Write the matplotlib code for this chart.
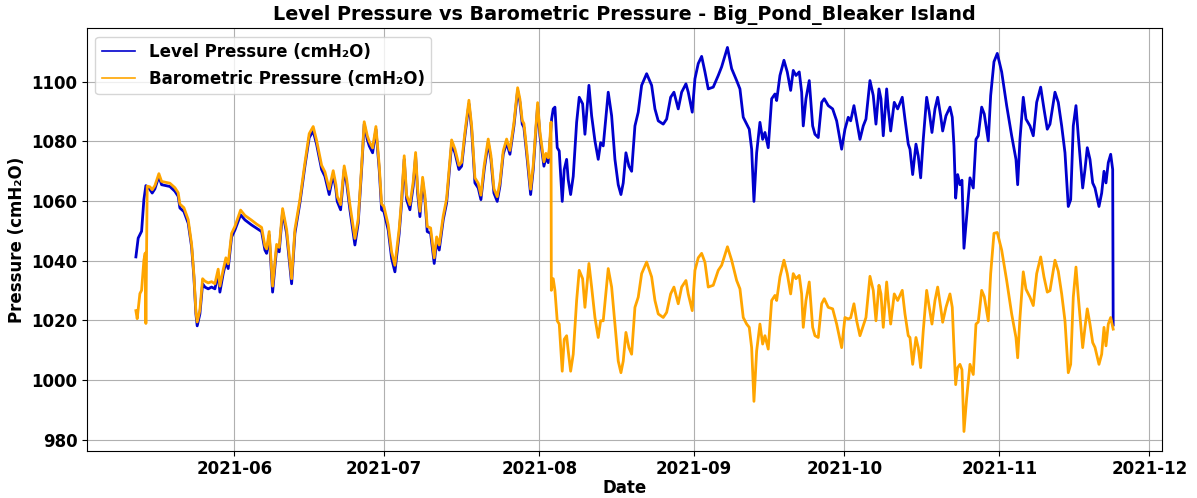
import datetime as dt
import matplotlib
matplotlib.use("Agg")
import matplotlib.pyplot as plt
import matplotlib.dates as mdates

# Sample times are given as fractional days since 2021-05-01 00:00.
START = dt.datetime(2021, 5, 1)

level_days = [
    11.34, 11.80, 12.48, 12.94, 13.34, 14.14, 14.60, 15.14, 15.94, 16.48,
    18.14, 19.14, 19.80, 20.14, 20.94, 21.80, 22.48, 22.94, 23.34, 23.60,
    24.14, 24.68, 25.14, 25.80, 26.48, 27.14, 27.80, 28.14, 28.80, 29.34,
    29.80, 30.48, 31.14, 32.28, 33.14, 34.48, 35.48, 36.48, 37.14, 37.48,
    38.00, 38.68, 39.48, 40.00, 40.68, 41.48, 42.48, 43.14, 44.14, 45.14,
    46.00, 46.80, 47.48, 48.48, 49.14, 50.00, 50.80, 51.34, 51.60, 52.28,
    53.00, 53.48, 54.14, 55.14, 55.80, 56.48, 57.00, 57.60, 58.00, 58.68,
    59.34, 60.00, 60.48, 60.94, 61.80, 62.48, 63.14, 64.00, 64.48, 65.00,
    65.48, 66.14, 66.80, 67.28, 67.68, 68.14, 68.68, 69.14, 69.60, 70.28,
    71.00, 71.48, 72.00, 72.80, 73.48, 74.48, 75.14, 75.94, 76.48, 77.14,
    77.94, 78.48, 79.14, 79.80, 80.34, 81.00, 81.80, 82.34, 82.94, 83.60,
    84.14, 84.80, 85.48, 86.14, 86.94, 87.68, 88.14, 88.60, 88.94, 89.60,
    90.28, 90.80, 91.68, 92.14, 92.94, 93.34, 93.80, 94.00, 94.48, 94.80,
    95.14, 95.60, 96.00, 96.60, 97.00, 97.48, 97.80, 98.28, 98.80, 99.48,
    100.00, 100.68, 101.14, 101.94, 102.48, 103.14, 103.80, 104.28, 104.80, 105.80,
    106.48, 107.14, 107.80, 108.34, 108.80, 109.34, 109.94, 110.48, 111.14, 111.80,
    112.48, 113.48, 114.48, 115.14, 115.80, 116.80, 117.48, 118.28, 118.94, 119.80,
    120.48, 121.34, 121.80, 122.60, 123.14, 123.80, 124.48, 125.14, 125.80, 126.80,
    127.80, 128.48, 129.64, 130.48, 131.48, 132.14, 132.80, 133.48, 134.00, 134.48,
    134.94, 135.48, 136.14, 136.68, 137.14, 137.80, 138.48, 139.14, 139.48, 140.14,
    140.94, 141.60, 142.28, 142.80, 143.34, 144.00, 144.48, 144.80, 145.34, 146.00,
    146.68, 147.14, 147.80, 148.48, 149.00, 149.80, 150.68, 151.48, 152.48, 153.14,
    153.80, 154.28, 154.94, 155.48, 156.14, 156.80, 157.34, 158.14, 158.80, 159.34,
    159.94, 160.34, 160.80, 161.48, 161.80, 162.28, 163.00, 163.68, 164.60, 165.14,
    165.80, 166.14, 166.68, 167.34, 167.80, 168.28, 168.80, 169.48, 170.00, 170.54,
    171.14, 171.68, 172.28, 172.68, 173.34, 174.14, 174.60, 174.94, 175.28, 175.68,
    176.14, 176.54, 176.94, 177.48, 178.14, 178.80, 179.34, 179.80, 180.48, 181.00,
    181.80, 182.28, 182.94, 183.60, 184.48, 185.48, 186.48, 187.34, 187.68, 188.14,
    188.80, 189.34, 190.14, 190.80, 191.48, 192.28, 192.94, 193.60, 194.14, 195.14,
    195.80, 196.48, 197.14, 197.80, 198.28, 198.80, 199.34, 199.80, 200.68, 201.14,
    201.60, 202.14, 202.68, 203.14, 203.94, 204.48, 204.94, 205.34, 205.80, 206.28,
    206.68, 206.78,
]

level_cm = [
    1041.3, 1047.6, 1049.9, 1060.5, 1065.2, 1063.9, 1062.7, 1064.1, 1068.3, 1065.5,
    1064.9, 1063.3, 1061.6, 1057.7, 1056.5, 1052.6, 1044.7, 1034.6, 1022.2, 1018.2,
    1022.2, 1032.3, 1031.2, 1030.6, 1031.2, 1030.6, 1035.7, 1029.5, 1035.7, 1039.6,
    1037.4, 1048.0, 1050.3, 1055.4, 1053.7, 1052.0, 1050.9, 1049.8, 1043.6, 1042.5,
    1048.6, 1029.5, 1044.2, 1043.0, 1056.5, 1049.2, 1032.3, 1049.2, 1059.4, 1071.7,
    1081.3, 1083.5, 1079.0, 1070.6, 1068.3, 1062.2, 1068.9, 1063.9, 1059.9, 1057.1,
    1070.6, 1066.1, 1057.1, 1045.3, 1052.6, 1070.6, 1085.8, 1080.7, 1078.5, 1076.2,
    1084.1, 1070.6, 1057.1, 1056.5, 1050.3, 1040.8, 1036.3, 1049.2, 1059.4, 1074.0,
    1060.5, 1057.1, 1065.0, 1075.1, 1062.7, 1054.8, 1066.7, 1060.5, 1049.8, 1049.2,
    1039.1, 1046.4, 1043.6, 1053.7, 1059.4, 1079.1, 1076.2, 1070.6, 1071.7, 1081.9,
    1092.6, 1084.1, 1066.1, 1064.4, 1060.5, 1070.6, 1079.6, 1074.0, 1062.7, 1059.9,
    1065.0, 1075.7, 1079.6, 1075.7, 1085.2, 1097.1, 1093.1, 1085.8, 1084.7, 1074.0,
    1062.2, 1070.6, 1092.0, 1081.9, 1071.7, 1074.6, 1072.9, 1076.2, 1087.5, 1090.9,
    1091.5, 1077.9, 1076.8, 1059.9, 1070.6, 1074.0, 1067.2, 1062.2, 1068.3, 1086.4,
    1094.8, 1092.6, 1082.4, 1098.8, 1088.6, 1080.2, 1074.0, 1079.6, 1078.5, 1096.5,
    1088.6, 1074.0, 1065.5, 1062.2, 1066.1, 1076.2, 1071.7, 1070.0, 1085.2, 1089.8,
    1098.8, 1102.7, 1098.8, 1090.9, 1086.9, 1085.8, 1087.5, 1094.8, 1096.5, 1090.9,
    1096.5, 1099.3, 1096.5, 1089.8, 1101.0, 1106.1, 1108.5, 1103.3, 1097.6, 1098.2,
    1102.1, 1105.0, 1111.5, 1104.4, 1100.4, 1097.6, 1088.1, 1085.8, 1084.1, 1077.4,
    1059.9, 1076.2, 1086.4, 1080.7, 1083.0, 1077.9, 1094.3, 1095.9, 1093.7, 1102.1,
    1107.2, 1103.3, 1097.1, 1103.8, 1102.1, 1103.3, 1096.5, 1085.2, 1094.3, 1100.4,
    1085.2, 1082.4, 1081.3, 1093.1, 1094.3, 1092.0, 1090.9, 1086.9, 1077.4, 1084.1,
    1088.1, 1086.9, 1092.0, 1086.9, 1080.7, 1085.2, 1087.5, 1100.4, 1095.4, 1085.8,
    1097.6, 1094.3, 1081.9, 1097.6, 1090.9, 1083.5, 1093.1, 1090.9, 1094.8, 1087.5,
    1079.1, 1077.4, 1068.9, 1079.1, 1075.1, 1067.8, 1080.7, 1094.8, 1089.8, 1083.0,
    1090.9, 1094.8, 1088.6, 1083.5, 1088.6, 1091.5, 1088.1, 1078.5, 1061.0, 1068.9,
    1065.5, 1067.0, 1044.2, 1054.8, 1067.8, 1064.4, 1080.7, 1081.9, 1091.5, 1089.2,
    1080.2, 1095.4, 1106.7, 1109.5, 1103.3, 1092.0, 1081.9, 1074.0, 1065.5, 1080.7,
    1094.8, 1087.5, 1085.2, 1081.9, 1093.1, 1098.2, 1090.9, 1084.1, 1085.8, 1096.5,
    1093.1, 1085.2, 1076.2, 1058.2, 1060.5, 1085.2, 1092.0, 1081.9, 1064.4, 1070.6,
    1077.9, 1074.0, 1066.1, 1064.4, 1058.2, 1062.7, 1070.0, 1066.1, 1072.9, 1075.7,
    1070.6, 1018.5,
]

baro_days = [
    11.34, 11.60, 12.14, 12.48, 12.94, 13.20, 13.34, 13.60,
    14.14, 14.60, 15.14, 15.94, 16.48, 18.14, 19.14, 19.80, 20.14, 20.94,
    21.80, 22.48, 22.94, 23.34, 23.60, 24.14, 24.68, 25.14, 25.80, 26.48,
    27.14, 27.80, 28.14, 28.80, 29.34, 29.80, 30.48, 31.14, 32.28, 33.14,
    34.48, 35.48, 36.48, 37.14, 37.48, 38.00, 38.68, 39.48, 40.00, 40.68,
    41.48, 42.48, 43.14, 44.14, 45.14, 46.00, 46.80, 47.48, 48.48, 49.14,
    50.00, 50.80, 51.34, 51.60, 52.28, 53.00, 53.48, 54.14, 55.14, 55.80,
    56.48, 57.00, 57.60, 58.00, 58.68, 59.34, 60.00, 60.48, 60.94, 61.80,
    62.48, 63.14, 64.00, 64.48, 65.00, 65.48, 66.14, 66.80, 67.28, 67.68,
    68.14, 68.68, 69.14, 69.60, 70.28, 71.00, 71.48, 72.00, 72.80, 73.48,
    74.48, 75.14, 75.94, 76.48, 77.14, 77.94, 78.48, 79.14, 79.80, 80.34,
    81.00, 81.80, 82.34, 82.94, 83.60, 84.14, 84.80, 85.48, 86.14, 86.94,
    87.68, 88.14, 88.60, 88.94, 89.60, 90.28, 90.80, 91.68, 92.14, 92.94,
    93.34, 93.80, 94.00, 94.36, 94.42, 94.80,
    95.14, 95.60, 96.00, 96.60, 97.00, 97.48, 97.80, 98.28, 98.80, 99.48,
    100.00, 100.68, 101.14, 101.94, 102.48, 103.14, 103.80, 104.28, 104.80, 105.80,
    106.48, 107.14, 107.80, 108.34, 108.80, 109.34, 109.94, 110.48, 111.14, 111.80,
    112.48, 113.48, 114.48, 115.14, 115.80, 116.80, 117.48, 118.28, 118.94, 119.80,
    120.48, 121.34, 121.80, 122.60, 123.14, 123.80, 124.48, 125.14, 125.80, 126.80,
    127.80, 128.48, 129.64, 130.48, 131.48, 132.14, 132.80, 133.48, 134.00, 134.48,
    134.94, 135.48, 136.14, 136.68, 137.14, 137.80, 138.48, 139.14, 139.48, 140.14,
    140.94, 141.60, 142.28, 142.80, 143.34, 144.00, 144.48, 144.80, 145.34, 146.00,
    146.68, 147.14, 147.80, 148.48, 149.00, 149.80, 150.68, 151.48, 152.48, 153.14,
    153.80, 154.28, 154.94, 155.48, 156.14, 156.80, 157.34, 158.14, 158.80, 159.34,
    159.94, 160.34, 160.80, 161.48, 161.80, 162.28, 163.00, 163.68, 164.60, 165.14,
    165.80, 166.14, 166.68, 167.34, 167.80, 168.28, 168.80, 169.48, 170.00, 170.54,
    171.14, 171.68, 172.28, 172.68, 173.34, 174.14, 174.60, 174.94, 175.28, 175.68,
    176.14, 176.54, 176.94, 177.48, 178.14, 178.80, 179.34, 179.80, 180.48, 181.00,
    181.80, 182.28, 182.94, 183.60, 184.48, 185.48, 186.48, 187.34, 187.68, 188.14,
    188.80, 189.34, 190.14, 190.80, 191.48, 192.28, 192.94, 193.60, 194.14, 195.14,
    195.80, 196.48, 197.14, 197.80, 198.28, 198.80, 199.34, 199.80, 200.68, 201.14,
    201.60, 202.14, 202.68, 203.14, 203.94, 204.48, 204.94, 205.34, 205.80, 206.28,
    206.78,
]

baro_cm = [
    1023.3, 1020.6, 1029.0, 1030.1, 1040.2, 1042.6, 1019.0, 1065.0,
    1064.8, 1063.8, 1065.2, 1069.2, 1066.6, 1066.0, 1064.5, 1062.8, 1059.0, 1057.8,
    1053.8, 1045.6, 1035.4, 1023.0, 1019.5, 1023.5, 1034.0, 1033.2, 1032.6, 1033.0,
    1032.3, 1037.2, 1031.5, 1037.0, 1041.0, 1039.0, 1049.2, 1051.5, 1057.0, 1055.2,
    1053.6, 1052.3, 1051.2, 1045.0, 1044.0, 1049.8, 1031.5, 1045.5, 1044.5, 1057.5,
    1050.5, 1034.0, 1050.5, 1060.5, 1072.8, 1082.6, 1085.0, 1080.3, 1072.0, 1069.8,
    1064.0, 1070.2, 1065.5, 1061.6, 1058.8, 1071.8, 1067.5, 1058.8, 1047.5, 1054.0,
    1071.8, 1086.6, 1082.0, 1080.0, 1077.8, 1085.0, 1072.0, 1059.0, 1058.2, 1052.0,
    1043.0, 1038.5, 1050.8, 1060.8, 1075.2, 1062.0, 1058.8, 1066.5, 1076.3, 1064.3,
    1056.6, 1068.0, 1062.0, 1051.5, 1051.0, 1041.0, 1048.0, 1045.3, 1055.0, 1060.8,
    1080.5, 1077.5, 1072.0, 1073.0, 1083.0, 1093.8, 1085.3, 1067.8, 1066.0, 1062.0,
    1072.0, 1080.8, 1075.3, 1064.2, 1061.5, 1066.3, 1076.8, 1080.8, 1077.0, 1086.2,
    1098.0, 1094.2, 1087.0, 1086.0, 1075.5, 1064.0, 1072.0, 1093.0, 1083.2, 1073.2,
    1076.0, 1074.5, 1077.5, 1086.5, 1030.1, 1034.0,
    1030.1, 1019.9, 1018.8, 1003.0, 1013.7, 1014.9, 1009.8, 1003.0, 1008.7, 1026.7,
    1036.8, 1034.0, 1024.4, 1039.1, 1031.2, 1021.0, 1014.3, 1019.9, 1019.9, 1037.4,
    1031.2, 1018.8, 1006.4, 1002.5, 1006.4, 1016.0, 1010.9, 1008.7, 1024.4, 1027.8,
    1035.7, 1039.6, 1034.6, 1026.7, 1022.2, 1021.0, 1022.7, 1028.9, 1031.2, 1025.6,
    1031.2, 1033.4, 1028.9, 1023.3, 1036.8, 1041.0, 1042.5, 1039.5, 1031.2, 1031.8,
    1036.8, 1038.5, 1044.7, 1040.2, 1033.4, 1030.6, 1021.0, 1018.8, 1017.7, 1010.9,
    992.9, 1009.8, 1018.8, 1012.1, 1014.9, 1010.4, 1026.7, 1028.4, 1026.7, 1034.6,
    1040.2, 1035.7, 1028.9, 1035.7, 1034.0, 1035.1, 1028.9, 1017.7, 1026.7, 1032.9,
    1017.7, 1014.9, 1014.3, 1025.6, 1027.3, 1024.4, 1023.9, 1018.8, 1010.9, 1021.0,
    1020.5, 1020.9, 1025.6, 1019.9, 1014.9, 1018.2, 1021.0, 1034.8, 1030.1, 1019.9,
    1031.8, 1028.9, 1017.7, 1032.9, 1026.7, 1018.8, 1028.9, 1026.7, 1030.1, 1022.2,
    1014.9, 1014.3, 1005.3, 1014.3, 1010.9, 1004.2, 1016.6, 1030.1, 1024.4, 1018.8,
    1026.7, 1031.2, 1024.4, 1019.4, 1024.4, 1028.9, 1024.4, 1010.9, 998.5, 1004.2,
    1005.3, 1003.5, 982.8, 994.0, 1005.3, 1001.9, 1018.8, 1019.5, 1030.1, 1028.0,
    1019.9, 1035.7, 1049.2, 1049.5, 1043.6, 1033.4, 1022.2, 1014.3, 1007.5, 1021.0,
    1036.3, 1030.5, 1027.8, 1025.0, 1035.7, 1041.3, 1034.6, 1029.5, 1030.0, 1040.2,
    1036.5, 1028.9, 1019.9, 1002.5, 1005.3, 1027.8, 1037.9, 1028.0, 1010.9, 1017.7,
    1023.9, 1018.8, 1012.6, 1011.0, 1005.3, 1008.7, 1017.7, 1011.5, 1018.8, 1021.0,
    1017.1,
]


def to_dates(days):
    return [START + dt.timedelta(days=d) for d in days]


fig = plt.figure(figsize=(11.97, 4.98), dpi=100)
ax = fig.add_axes([0.0727, 0.095, 0.8981, 0.8483])

ax.plot(to_dates(level_days), level_cm, color="mediumblue", linewidth=2.0,
        label="Level Pressure (cmH\u2082O)")
ax.plot(to_dates(baro_days), baro_cm, color="orange", linewidth=2.0,
        label="Barometric Pressure (cmH\u2082O)")

ax.set_title("Level Pressure vs Barometric Pressure - Big_Pond_Bleaker Island",
             fontsize=13.8, fontweight="bold")
ax.set_xlabel("Date", fontsize=12, fontweight="bold", labelpad=0.5)
ax.set_ylabel("Pressure (cmH\u2082O)", fontsize=12, fontweight="bold")

ax.xaxis.set_major_locator(mdates.MonthLocator())
ax.xaxis.set_major_formatter(mdates.DateFormatter("%Y-%m"))
ax.tick_params(axis="both", labelsize=12)
for lab in ax.get_xticklabels() + ax.get_yticklabels():
    lab.set_fontweight("bold")

ax.grid(True)

leg = ax.legend(loc="upper left", prop={"weight": "bold", "size": 12})
for line in leg.get_lines():
    line.set_linewidth(1.2)

fig.savefig("out.png", dpi=100)
